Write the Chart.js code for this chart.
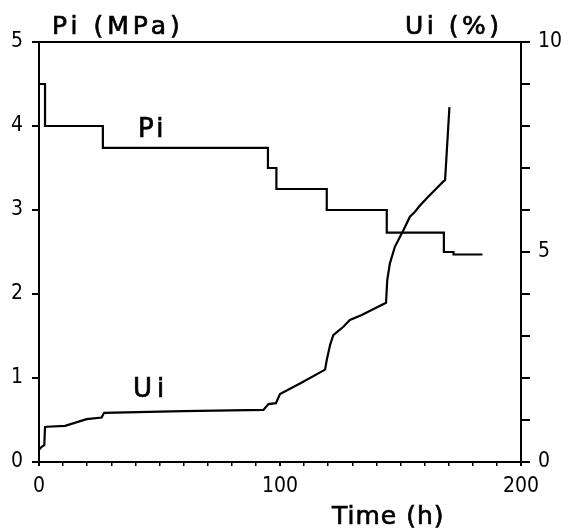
<!DOCTYPE html>
<html lang="en">
<head>
    <meta charset="UTF-8">
    <title>Pi and Ui versus time</title>
    <script src="https://cdn.jsdelivr.net/npm/chart.js"></script>
    <style>
        body { margin: 0; background: #fff; }
    </style>
</head>
<body>
    <canvas id="chart" width="561" height="528"></canvas>

    <script>
        // Pi (MPa): each point is the level that starts at that time (h)
        const piTime = [0, 2.5, 26.5, 95, 98.5, 119.4, 144.3, 168, 172, 184];
        const piValue = [4.5, 4.0, 3.74, 3.5, 3.25, 3.0, 2.73, 2.5, 2.47, 2.47];

        // Ui (%)
        const uiTime = [0, 1.1, 2.2, 2.5, 3.2, 10.8, 19.8, 26, 27, 59.6, 93.1, 95.2, 98.3, 100,
            108.3, 118.7, 119.4, 120.8, 122.1, 126.3, 129, 133.9, 138, 144, 144.5, 145.6,
            147.7, 151.2, 153.9, 156, 158, 160.9, 165, 167.8, 168.5, 170.3];
        const uiValue = [0.29, 0.36, 0.40, 0.83, 0.84, 0.86, 1.02, 1.06, 1.17, 1.21, 1.24, 1.38, 1.40, 1.62,
            1.87, 2.2, 2.43, 2.79, 3.02, 3.22, 3.38, 3.5, 3.62, 3.79, 4.33, 4.73,
            5.13, 5.52, 5.84, 5.96, 6.1, 6.28, 6.52, 6.68, 6.71, 8.45];

        const xLabels = [0, 100, 200];
        const uiLabels = [0, 5, 10];

        const tickFont = { family: 'DejaVu Sans Condensed, DejaVu Sans, sans-serif', size: 21 };

        function drawText(ctx, str, x, y, spacing) {
            ctx.letterSpacing = spacing + 'px';
            ctx.fillText(str, x, y);
            ctx.strokeText(str, x, y);
        }

        const textPlugin = {
            id: 'texts',
            afterDraw(chart) {
                const ctx = chart.ctx;
                const sx = chart.scales.x, sy = chart.scales.y;
                ctx.save();
                ctx.fillStyle = '#000';
                ctx.strokeStyle = '#000';
                ctx.lineWidth = 0.7;
                ctx.textBaseline = 'alphabetic';
                ctx.font = '25px "DejaVu Sans"';
                drawText(ctx, 'Pi (MPa)', 52, 34, 4);
                drawText(ctx, 'Ui (%)', 405, 34, 3.5);
                drawText(ctx, 'Time (h)', 332, 524, 1);
                // series names next to the curves
                ctx.font = '26px "DejaVu Sans"';
                ctx.textAlign = 'center';
                drawText(ctx, 'Pi', sx.getPixelForValue(47), sy.getPixelForValue(3.87), 3);
                drawText(ctx, 'Ui', sx.getPixelForValue(46.5), sy.getPixelForValue(0.77), 5);
                ctx.restore();
            }
        };

        const ctx = document.getElementById('chart').getContext('2d');
        new Chart(ctx, {
            type: 'line',
            data: {
                datasets: [{
                    label: 'Pi',
                    data: piTime.map((t, i) => ({ x: t, y: piValue[i] })),
                    yAxisID: 'y',
                    stepped: 'before',
                    borderColor: '#000',
                    borderWidth: 2.2,
                    pointRadius: 0
                }, {
                    label: 'Ui',
                    data: uiTime.map((t, i) => ({ x: t, y: uiValue[i] })),
                    yAxisID: 'y2',
                    tension: 0,
                    borderColor: '#000',
                    borderWidth: 2.2,
                    pointRadius: 0
                }]
            },
            options: {
                responsive: false,
                animation: false,
                layout: { padding: { top: 42, left: 0, right: 0, bottom: 0 } },
                plugins: { legend: { display: false }, tooltip: { enabled: false } },
                scales: {
                    x: {
                        type: 'linear', position: 'bottom', min: 0, max: 200,
                        afterFit: s => { s.height = 66; },
                        border: { color: '#000', width: 2 },
                        grid: { drawOnChartArea: false, tickLength: 4, color: '#000',
                            lineWidth: c => (xLabels.includes(c.tick.value) ? 2 : 1.5) },
                        ticks: { stepSize: 10, color: '#000', font: tickFont, padding: 8, maxRotation: 0,
                            autoSkip: false,
                            callback: v => (xLabels.includes(v) ? String(v) : '') }
                    },
                    xTop: {
                        type: 'linear', position: 'top', min: 0, max: 200,
                        afterFit: s => { s.height = 0; },
                        border: { color: '#000', width: 2 },
                        grid: { drawOnChartArea: false, drawTicks: false },
                        ticks: { display: false }
                    },
                    y: {
                        position: 'left', min: 0, max: 5,
                        afterFit: s => { s.width = 39; },
                        border: { color: '#000', width: 2 },
                        grid: { drawOnChartArea: false, tickLength: 7, color: '#000', lineWidth: 2 },
                        ticks: { stepSize: 1, color: '#000', font: tickFont, padding: 9 }
                    },
                    y2: {
                        position: 'right', min: 0, max: 10,
                        afterFit: s => { s.width = 40; },
                        border: { color: '#000', width: 2 },
                        grid: { drawOnChartArea: false, tickLength: 9, color: '#000', lineWidth: 2 },
                        ticks: { stepSize: 1, color: '#000', font: tickFont, padding: 8, autoSkip: false,
                            callback: v => (uiLabels.includes(v) ? String(v) : '') }
                    }
                }
            },
            plugins: [textPlugin]
        });
    </script>
</body>
</html>
